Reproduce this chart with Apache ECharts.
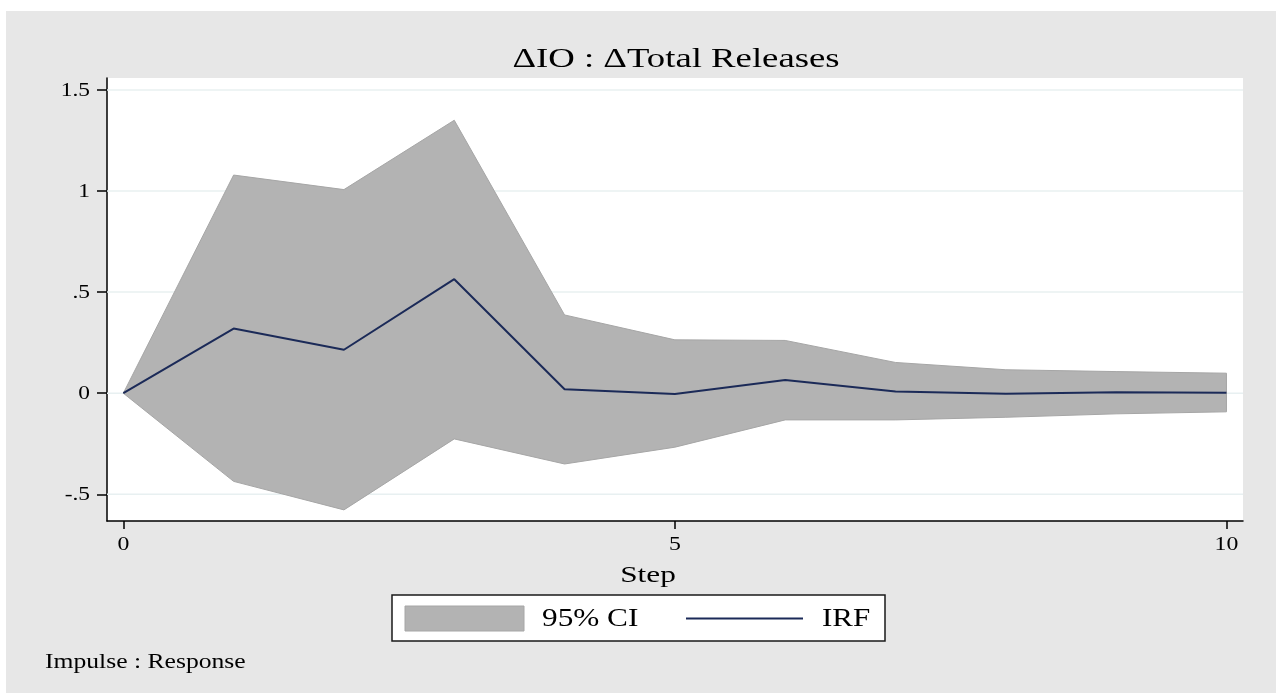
<!DOCTYPE html>
<html>
<head>
<meta charset="utf-8">
<title>ΔIO : ΔTotal Releases</title>
<script src="https://cdn.jsdelivr.net/npm/echarts@6/dist/echarts.min.js"></script>
<style>
  html, body { margin: 0; padding: 0; background: #ffffff; }
  #chart { width: 1276px; height: 693px; }
</style>
</head>
<body>
<div id="chart"></div>
<script>
// Impulse-response function with its 95% confidence band
const steps = [0, 1, 2, 3, 4, 5, 6, 7, 8, 9, 10];
const irf   = [0, 0.320, 0.215, 0.564, 0.020, -0.004, 0.065, 0.008, -0.003, 0.005, 0.002];
const ciUpper = [0, 1.079, 1.007, 1.350, 0.387, 0.264, 0.261, 0.152, 0.116, 0.107, 0.099];
const ciLower = [0, -0.436, -0.577, -0.226, -0.350, -0.267, -0.132, -0.132, -0.119, -0.102, -0.092];

const xTicks = [0, 5, 10];
const xTickLabels = ['0', '5', '10'];
const yTicks = [-0.5, 0, 0.5, 1, 1.5];
const yTickLabels = ['-.5', '0', '.5', '1', '1.5'];

const titleText = 'ΔIO : ΔTotal Releases';
const xTitle = 'Step';
const noteText = 'Impulse : Response';
const legendNames = ['95% CI', 'IRF'];

const SERIF = '"Liberation Serif", "Times New Roman", serif';
const BAND = '#b3b3b3';
const BAND_EDGE = '#a6a6a6';
const NAVY = '#1b2a58';
const GRIDLINE = '#e8f0f1';

const X_MIN = -0.148, X_MAX = 10.15;
const Y_MIN = -0.632, Y_MAX = 1.559;

const irfPts = steps.map((s, i) => [s, irf[i]]);

const chart = echarts.init(document.getElementById('chart'), null, { renderer: 'canvas' });

chart.setOption({
  animation: false,
  backgroundColor: '#ffffff',
  grid: {
    left: 107, top: 78, right: 33, bottom: 172,
    show: true, backgroundColor: '#ffffff', borderWidth: 0
  },
  xAxis: {
    type: 'value',
    min: X_MIN, max: X_MAX,
    axisLine: { onZero: false, lineStyle: { color: '#000', width: 1.5 } },
    axisTick: { show: true, length: 8, customValues: xTicks, lineStyle: { color: '#000', width: 1.5 } },
    axisLabel: { show: false },
    splitLine: { show: false }
  },
  yAxis: {
    type: 'value',
    min: Y_MIN, max: Y_MAX,
    axisLine: { show: true, onZero: false, lineStyle: { color: '#000', width: 1.5 } },
    axisTick: { show: true, length: 10, customValues: yTicks, lineStyle: { color: '#000', width: 1.5 } },
    axisLabel: { show: false },
    splitLine: { show: false }
  },
  series: [
    {
      // horizontal grid lines at the labelled y ticks
      type: 'custom', z: 1, silent: true,
      data: yTicks.map(v => [0, v]),
      renderItem: (params, api) => {
        const v = api.value(1);
        const a = api.coord([X_MIN, v]);
        const b = api.coord([X_MAX, v]);
        return { type: 'line', shape: { x1: a[0], y1: a[1], x2: b[0], y2: b[1] },
                 style: { stroke: GRIDLINE, lineWidth: 1.5 } };
      }
    },
    {
      // confidence band as one polygon: upper edge forward, lower edge back
      name: legendNames[0], type: 'custom', z: 2, silent: true,
      data: [[0, 0]],
      renderItem: (params, api) => {
        const pts = [];
        steps.forEach((s, i) => pts.push(api.coord([s, ciUpper[i]])));
        for (let i = steps.length - 1; i >= 0; i--) pts.push(api.coord([steps[i], ciLower[i]]));
        return { type: 'polygon', shape: { points: pts },
                 style: { fill: BAND, stroke: BAND_EDGE, lineWidth: 1 } };
      }
    },
    {
      name: legendNames[1], type: 'line', data: irfPts,
      symbol: 'none', z: 3, silent: true,
      lineStyle: { color: NAVY, width: 2 }
    }
  ]
});

// Text is set slightly wide, like the rest of the graph's lettering
function label(x, y, text, size, align, vAlign, sx) {
  return {
    type: 'text', z: 20, silent: true, x: x, y: y, scaleX: sx, scaleY: 1,
    style: { text: text, fontFamily: SERIF, fontSize: size, fill: '#000',
             align: align, verticalAlign: vAlign }
  };
}

const px = (x, y) => chart.convertToPixel({ xAxisIndex: 0, yAxisIndex: 0 }, [x, y]);
const axisY = px(0, Y_MIN)[1];
const axisX = px(X_MIN, 0)[0];

const graphics = [
  // outer graph region
  { type: 'rect', z: -10, silent: true,
    shape: { x: 6, y: 11, width: 1270, height: 682 },
    style: { fill: '#e7e7e7' } },
  label(676, 46, titleText, 27, 'center', 'top', 1.36),
  label(648, 564, xTitle, 23, 'center', 'top', 1.36),
  // legend
  { type: 'rect', z: 10, silent: true,
    shape: { x: 392, y: 595, width: 493, height: 46 },
    style: { fill: '#ffffff', stroke: '#1a1a1a', lineWidth: 1.5 } },
  { type: 'rect', z: 11, silent: true,
    shape: { x: 405, y: 606, width: 119, height: 25 },
    style: { fill: BAND, stroke: BAND_EDGE, lineWidth: 1 } },
  label(542, 619, legendNames[0], 25, 'left', 'middle', 1.25),
  { type: 'line', z: 11, silent: true,
    shape: { x1: 686, y1: 618.5, x2: 803, y2: 618.5 },
    style: { stroke: NAVY, lineWidth: 2 } },
  label(822, 619, legendNames[1], 25, 'left', 'middle', 1.24),
  label(45, 662, noteText, 21, 'left', 'middle', 1.22)
];

xTicks.forEach((t, i) => {
  graphics.push(label(px(t, 0)[0], axisY + 24, xTickLabels[i], 18, 'center', 'middle', 1.32));
});
yTicks.forEach((t, i) => {
  graphics.push(label(axisX - 17, px(0, t)[1] + 1, yTickLabels[i], 18, 'right', 'middle', 1.3));
});

chart.setOption({ graphic: graphics });
</script>
</body>
</html>
